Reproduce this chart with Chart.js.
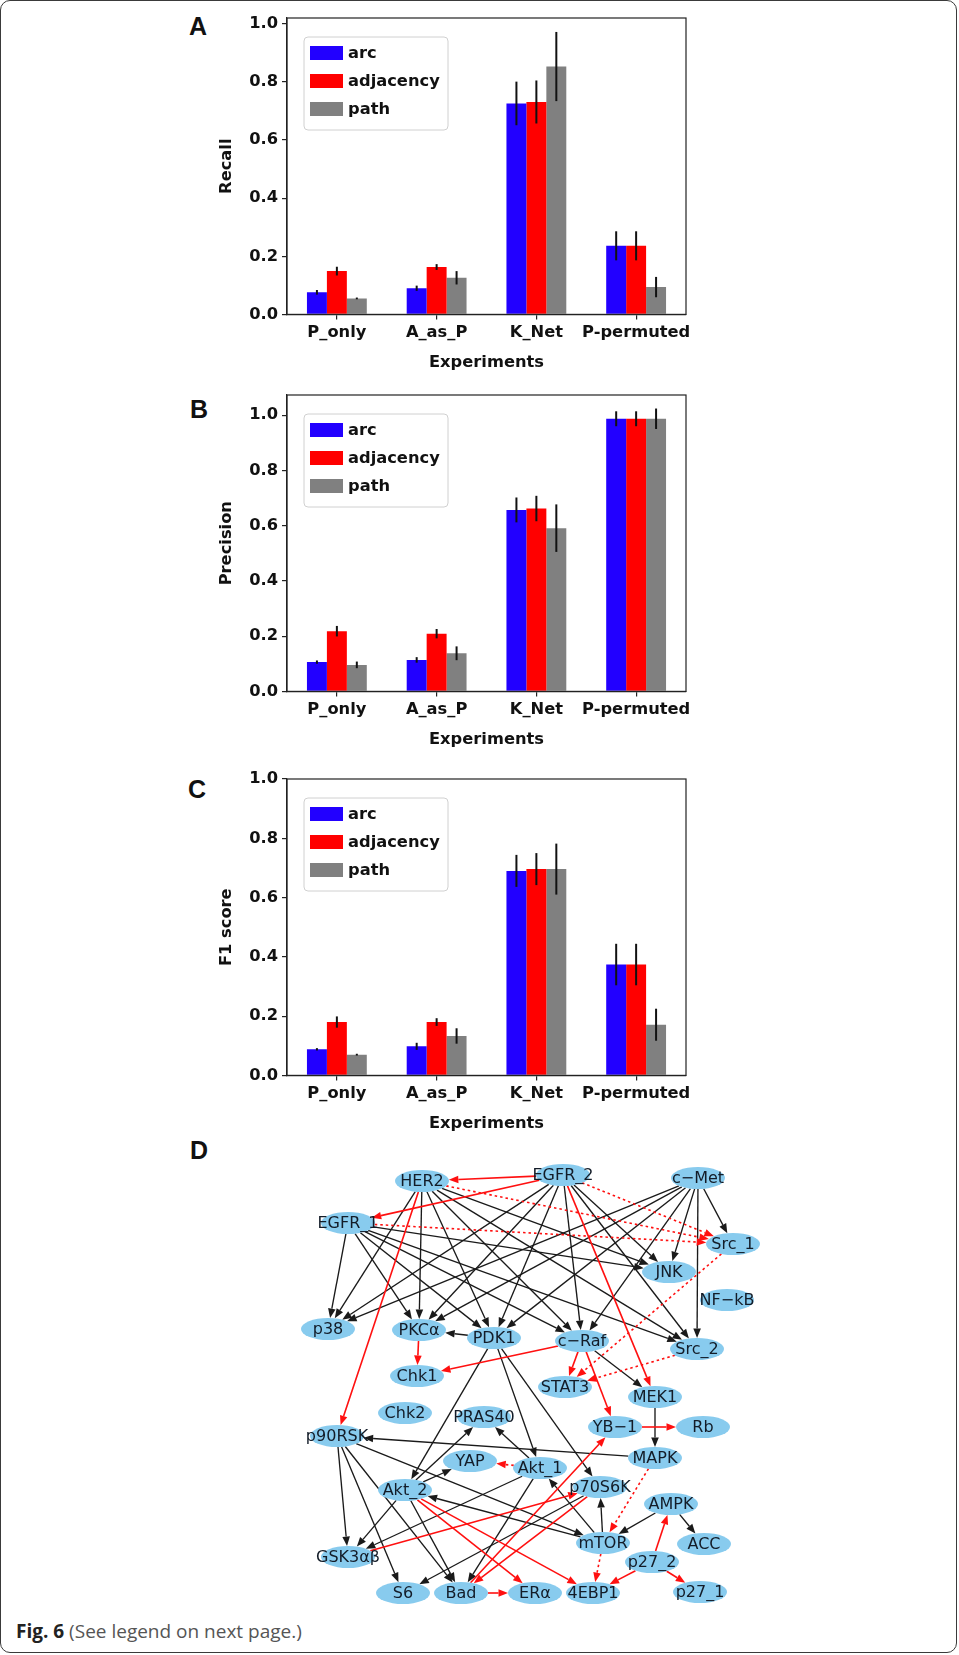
<!DOCTYPE html>
<html><head><meta charset="utf-8">
<script src="https://cdn.jsdelivr.net/npm/chart.js@4.4.1/dist/chart.umd.min.js"></script>
<style>
html,body{margin:0;padding:0;background:#fff;}
body{width:959px;height:1655px;position:relative;overflow:hidden;}
#frame{position:absolute;left:0;top:0;width:955px;height:1651px;border:1.6px solid #3a3a3a;border-radius:10px;}
canvas{position:absolute;}
.lt{position:absolute;font-family:"Liberation Sans",Arial,sans-serif;font-weight:bold;font-size:25px;line-height:25px;color:#111;}
#cap{position:absolute;left:16px;top:1621px;font-family:"Open Sans",sans-serif;font-size:19px;line-height:20px;color:#555;white-space:nowrap;}
#cap b{color:#222;}
</style></head>
<body>
<div id="frame"></div>
<div class="lt" style="left:189px;top:14px">A</div>
<div class="lt" style="left:190px;top:397px">B</div>
<div class="lt" style="left:188px;top:777px">C</div>
<div class="lt" style="left:190px;top:1138px">D</div>
<canvas id="cA" width="530" height="380" style="left:170px;top:0px"></canvas>
<canvas id="cB" width="530" height="380" style="left:170px;top:377px"></canvas>
<canvas id="cC" width="530" height="380" style="left:170px;top:761px"></canvas>
<canvas id="cD" width="480" height="465" style="left:290px;top:1150px"></canvas>
<div id="cap"><b>Fig. 6</b> (See legend on next page.)</div>
<script>
// ---------------- data ----------------
const categories = ['P_only', 'A_as_P', 'K_Net', 'P-permuted'];
const seriesNames = ['arc', 'adjacency', 'path'];
const yTicks = [0.0, 0.2, 0.4, 0.6, 0.8, 1.0];

const recallArc  = [0.076, 0.090, 0.726, 0.236];
const recallAdj  = [0.149, 0.163, 0.731, 0.236];
const recallPath = [0.055, 0.126, 0.853, 0.094];
const recallArcErr  = [0.008, 0.009, 0.075, 0.050];
const recallAdjErr  = [0.015, 0.010, 0.074, 0.050];
const recallPathErr = [0.003, 0.023, 0.119, 0.035];

const precisionArc  = [0.106, 0.114, 0.657, 0.987];
const precisionAdj  = [0.218, 0.209, 0.662, 0.987];
const precisionPath = [0.096, 0.138, 0.591, 0.987];
const precisionArcErr  = [0.006, 0.010, 0.045, 0.027];
const precisionAdjErr  = [0.019, 0.017, 0.046, 0.027];
const precisionPathErr = [0.012, 0.025, 0.086, 0.037];

const f1Arc  = [0.088, 0.098, 0.690, 0.374];
const f1Adj  = [0.180, 0.180, 0.696, 0.374];
const f1Path = [0.070, 0.133, 0.696, 0.171];
const f1ArcErr  = [0.004, 0.012, 0.054, 0.070];
const f1AdjErr  = [0.019, 0.013, 0.054, 0.070];
const f1PathErr = [0.003, 0.026, 0.086, 0.054];

// network (panel D): node layout coordinates
const nodeNames = ['HER2','EGFR_2','c−Met','EGFR_1','Src_1','JNK','NF−kB','p38','PKCα','PDK1','c−Raf','Src_2',
  'Chk1','STAT3','MEK1','Chk2','PRAS40','YB−1','Rb','p90RSK','MAPK','YAP','Akt_1','Akt_2','p70S6K','AMPK',
  'mTOR','ACC','p27_2','GSK3αβ','S6','Bad','ERα','4EBP1','p27_1'];
const nodeX = [132,273,408,58,443,379,437,38,129,204,292,407,127,275,365,115,194,325,413,47,365,180,250,115,310,381,313,414,362,58,113,171,245,303,410];
const nodeY = [31,25,28,73,94,122,150,179,180,188,191,199,226,237,247,263,267,277,277,286,308,311,318,340,337,354,393,394,412,407,443,443,443,443,442];

const blackEdges = [
  ['EGFR_1','p38'],['EGFR_1','PKCα'],['EGFR_1','PDK1'],['EGFR_1','c−Raf'],['EGFR_1','JNK'],['EGFR_1','Src_2'],
  ['HER2','p38'],['HER2','PKCα'],['HER2','PDK1'],['HER2','c−Raf'],['HER2','JNK'],['HER2','Src_2'],
  ['EGFR_2','p38'],['EGFR_2','PKCα'],['EGFR_2','PDK1'],['EGFR_2','c−Raf'],['EGFR_2','JNK'],['EGFR_2','Src_2'],
  ['c−Met','p38'],['c−Met','PKCα'],['c−Met','PDK1'],['c−Met','c−Raf'],['c−Met','JNK'],['c−Met','Src_2'],['c−Met','Src_1'],
  ['PDK1','PKCα'],['PDK1','Akt_2'],['PDK1','Akt_1'],['PDK1','p70S6K'],['c−Raf','MEK1'],['MEK1','MAPK'],['MAPK','p90RSK'],
  ['p90RSK','GSK3αβ'],['p90RSK','S6'],['p90RSK','Bad'],['p90RSK','mTOR'],
  ['Akt_2','PRAS40'],['Akt_2','YAP'],['Akt_2','GSK3αβ'],['Akt_2','Bad'],
  ['Akt_1','PRAS40'],['Akt_1','GSK3αβ'],['Akt_1','Bad'],
  ['mTOR','Akt_1'],['mTOR','Akt_2'],['mTOR','p70S6K'],['p70S6K','S6'],['AMPK','mTOR'],['AMPK','ACC']
];
const redEdges = [
  ['EGFR_2','HER2'],['EGFR_2','EGFR_1'],['EGFR_2','MEK1'],['HER2','p90RSK'],['PKCα','Chk1'],['c−Raf','Chk1'],
  ['c−Raf','STAT3'],['c−Raf','YB−1'],['YB−1','Rb'],['Akt_2','ERα'],['Akt_2','4EBP1'],['GSK3αβ','p70S6K'],
  ['Bad','YB−1'],['p70S6K','Bad'],['Bad','ERα'],['p27_2','AMPK'],['p27_2','4EBP1'],['p27_2','p27_1']
];
const dottedEdges = [
  ['EGFR_2','Src_1'],['HER2','Src_1'],['EGFR_1','Src_1'],['Src_1','STAT3'],['Src_2','STAT3'],
  ['MAPK','mTOR'],['mTOR','4EBP1'],['Akt_1','YAP']
];

// ---------------- styles ----------------
const seriesColors = ['#2200ff', '#ff0000', '#808080'];
const FONT = 'DejaVu Sans';
const axisCol = '#222';

// ---------------- bar charts ----------------
const barPlugin = {
  id: 'barExtras',
  afterDatasetsDraw(chart) {
    const ctx = chart.ctx, ys = chart.scales.y;
    ctx.save();
    ctx.strokeStyle = '#111';
    ctx.lineWidth = 2;
    chart.data.datasets.forEach((ds, i) => {
      const meta = chart.getDatasetMeta(i);
      meta.data.forEach((bar, j) => {
        const v = ds.data[j], e = ds.err[j];
        ctx.beginPath();
        ctx.moveTo(bar.x, ys.getPixelForValue(v - e));
        ctx.lineTo(bar.x, ys.getPixelForValue(v + e));
        ctx.stroke();
      });
    });
    ctx.restore();
  },
  afterDraw(chart) {
    const ctx = chart.ctx, ca = chart.chartArea;
    ctx.save();
    ctx.strokeStyle = axisCol;
    ctx.lineWidth = 1.2;
    ctx.strokeRect(ca.left, ca.top, ca.right - ca.left, ca.bottom - ca.top);
    // legend
    const L = ca.left + 17, T = ca.top + 19, W = 144, H = 93;
    ctx.beginPath();
    ctx.roundRect(L, T, W, H, 4);
    ctx.fillStyle = 'rgba(255,255,255,0.85)';
    ctx.fill();
    ctx.strokeStyle = '#d0d0d0';
    ctx.lineWidth = 1;
    ctx.stroke();
    ctx.font = 'bold 16.3px "' + FONT + '"';
    ctx.textBaseline = 'middle';
    ctx.textAlign = 'left';
    chart.data.datasets.forEach((ds, i) => {
      const cy = T + 16 + 28 * i;
      ctx.fillStyle = ds.backgroundColor;
      ctx.fillRect(L + 6, cy - 7, 33, 14);
      ctx.fillStyle = '#111';
      ctx.fillText(ds.label, L + 44, cy + 1);
    });
    ctx.restore();
  }
};

function makeBarChart(id, yTitle, vals, errs, yMax) {
  const tickFont = {family: FONT, weight: 'bold', size: 16.3};
  return new Chart(document.getElementById(id), {
    type: 'bar',
    data: {
      labels: categories,
      datasets: seriesNames.map((n, i) => ({
        label: n, data: vals[i], err: errs[i], backgroundColor: seriesColors[i],
        borderWidth: 0, categoryPercentage: 0.6, barPercentage: 1.0
      }))
    },
    options: {
      responsive: false, animation: false, devicePixelRatio: 1,
      layout: {padding: {left: 43, top: 18, right: 14, bottom: 3}},
      plugins: {legend: {display: false}, tooltip: {enabled: false}},
      scales: {
        x: {
          grid: {display: true, offset: false, drawOnChartArea: false, drawTicks: true, tickLength: 5, color: axisCol, lineWidth: 1.2},
          border: {display: true, color: axisCol, width: 1.2},
          ticks: {font: tickFont, color: '#111', padding: 4, maxRotation: 0, autoSkip: false},
          title: {display: true, text: 'Experiments', font: tickFont, color: '#111', padding: {top: 4, bottom: 4}},
          afterFit(s) { s.height = 62.6; }
        },
        y: {
          min: 0, max: yMax,
          afterBuildTicks(s) { s.ticks = yTicks.map(v => ({value: v})); },
          grid: {display: true, drawOnChartArea: false, drawTicks: true, tickLength: 5, color: axisCol, lineWidth: 1.2},
          border: {display: true, color: axisCol, width: 1.2},
          ticks: {font: tickFont, color: '#111', padding: 4, callback: v => Number(v).toFixed(1)},
          title: {display: true, text: yTitle, font: tickFont, color: '#111', padding: {top: 4, bottom: 4}},
          afterFit(s) { s.width = 74; }
        }
      }
    },
    plugins: [barPlugin]
  });
}

makeBarChart('cA', 'Recall', [recallArc, recallAdj, recallPath], [recallArcErr, recallAdjErr, recallPathErr], 1.02);
makeBarChart('cB', 'Precision', [precisionArc, precisionAdj, precisionPath], [precisionArcErr, precisionAdjErr, precisionPathErr], 1.073);
makeBarChart('cC', 'F1 score', [f1Arc, f1Adj, f1Path], [f1ArcErr, f1AdjErr, f1PathErr], 1.0);

// ---------------- network chart ----------------
const RX = 27, RY = 11;
function drawEdge(ctx, p, q, color, dash, lw) {
  const dx = q.x - p.x, dy = q.y - p.y, len = Math.hypot(dx, dy);
  const ux = dx / len, uy = dy / len;
  const t = 1 / Math.sqrt((ux / RX) ** 2 + (uy / RY) ** 2);
  const sx = p.x + ux * t, sy = p.y + uy * t;
  const ex = q.x - ux * t, ey = q.y - uy * t;
  const AL = 9.5, AW = 3.8;
  const bx = ex - ux * AL, by = ey - uy * AL;
  ctx.strokeStyle = color; ctx.fillStyle = color; ctx.lineWidth = lw;
  ctx.setLineDash(dash);
  ctx.beginPath(); ctx.moveTo(sx, sy); ctx.lineTo(bx, by); ctx.stroke();
  ctx.setLineDash([]);
  ctx.beginPath();
  ctx.moveTo(ex, ey);
  ctx.lineTo(bx - uy * AW, by + ux * AW);
  ctx.lineTo(bx + uy * AW, by - ux * AW);
  ctx.closePath(); ctx.fill();
}
const netPlugin = {
  id: 'network',
  beforeDatasetsDraw(chart) {
    const ctx = chart.ctx, meta = chart.getDatasetMeta(0);
    const pos = {};
    nodeNames.forEach((n, i) => pos[n] = meta.data[i]);
    ctx.save();
    blackEdges.forEach(([a, b]) => drawEdge(ctx, pos[a], pos[b], '#1a1a1a', [], 1.35));
    dottedEdges.forEach(([a, b]) => drawEdge(ctx, pos[a], pos[b], '#ff1010', [2.5, 3], 1.6));
    redEdges.forEach(([a, b]) => drawEdge(ctx, pos[a], pos[b], '#ff1010', [], 1.6));
    ctx.restore();
  },
  afterDatasetsDraw(chart) {
    const ctx = chart.ctx, meta = chart.getDatasetMeta(0);
    ctx.save();
    meta.data.forEach((pt, i) => {
      ctx.beginPath();
      ctx.ellipse(pt.x, pt.y, RX, RY, 0, 0, Math.PI * 2);
      ctx.fillStyle = '#88cbee';
      ctx.fill();
    });
    ctx.font = '16px "' + FONT + '"';
    ctx.textAlign = 'center';
    ctx.textBaseline = 'middle';
    ctx.fillStyle = '#131c28';
    meta.data.forEach((pt, i) => ctx.fillText(nodeNames[i], pt.x, pt.y + 1));
    ctx.restore();
  }
};
new Chart(document.getElementById('cD'), {
  type: 'scatter',
  data: {datasets: [{label: 'nodes', data: nodeNames.map((n, i) => ({x: nodeX[i], y: nodeY[i]})), pointRadius: 0}]},
  options: {
    responsive: false, animation: false, devicePixelRatio: 1,
    layout: {padding: 0},
    plugins: {legend: {display: false}, tooltip: {enabled: false}},
    scales: {
      x: {display: false, min: 0, max: 480},
      y: {display: false, min: 0, max: 465, reverse: true}
    }
  },
  plugins: [netPlugin]
});
</script>
</body></html>
